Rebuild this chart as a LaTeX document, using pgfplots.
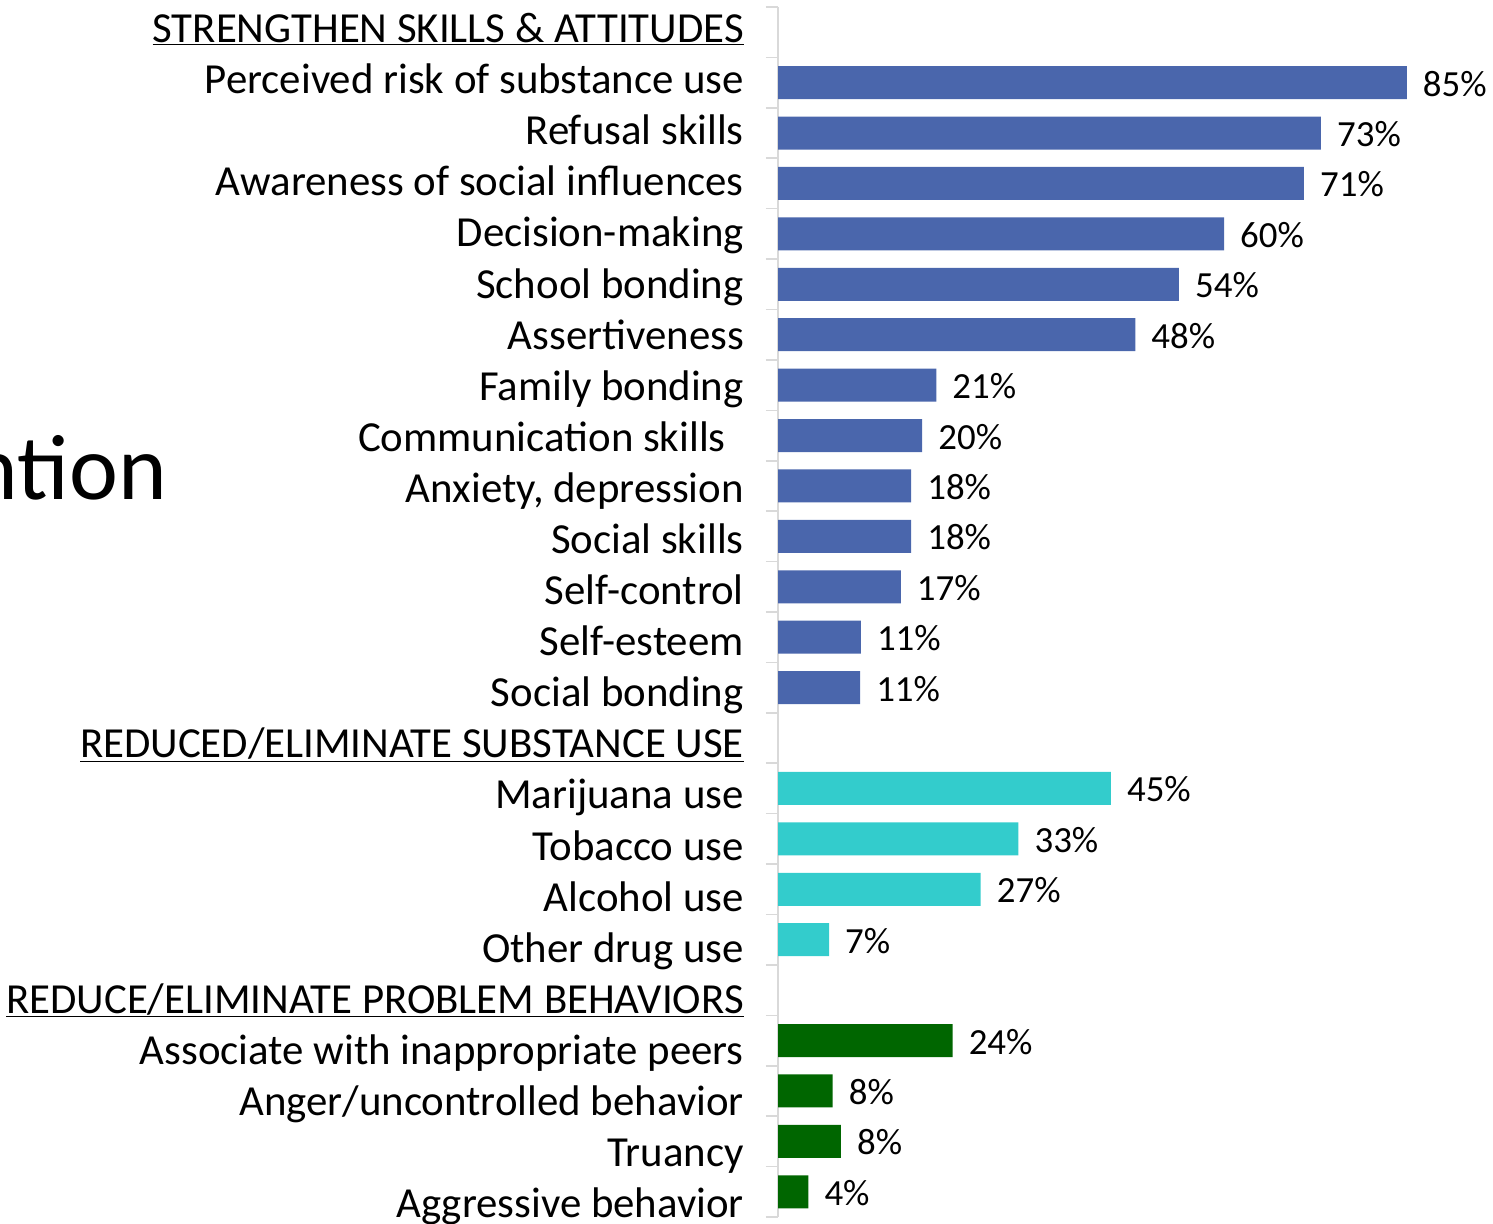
\documentclass[border=0pt]{standalone}
\usepackage{pgfplots}
\pgfplotsset{compat=1.18}
\usepackage{pgfplotstable}
\usepackage{fontspec}
\setmainfont{Carlito}
\definecolor{cblue}{HTML}{4A66AC}
\definecolor{cteal}{HTML}{33CCCC}
\definecolor{cgreen}{HTML}{006600}
\definecolor{cgrid}{HTML}{D9D9D9}

\pgfplotstableread{
y x lab
1 85.0 85
2 73.4 73
3 71.1 71
4 60.3 60
5 54.2 54
6 48.3 48
7 21.4 21
8 19.5 20
9 18.0 18
10 18.0 18
11 16.6 17
12 11.2 11
13 11.1 11
}\blueData
\pgfplotstableread{
y x lab
15 45.0 45
16 32.5 33
17 27.4 27
18 6.9 7
}\tealData
\pgfplotstableread{
y x lab
20 23.6 24
21 7.4 8
22 8.5 8
23 4.1 4
}\greenData

\newcommand{\hd}[1]{\underline{#1}}

\begin{document}
\begin{tikzpicture}
\useasboundingbox (0,0) rectangle (1493bp,1224bp);
\node[anchor=base east, inner sep=0pt, font=\fontsize{93}{93}\selectfont] at (167bp,724bp) {ntion};
\begin{axis}[
  at={(778bp,7bp)}, anchor=south west,
  scale only axis, width=715bp, height=1210bp,
  xmin=0, xmax=96.66, ymin=-0.5, ymax=23.5, y dir=reverse,
  hide x axis,
  axis y line*=left,
  y axis line style={draw=cgrid, line width=1.6bp},
  clip=false,
  tick align=outside,
  ytick={-0.063,0.950,1.964,2.977,3.991,5.004,6.018,7.031,8.045,9.058,10.072,11.085,12.099,13.112,14.126,15.139,16.153,17.166,18.180,19.193,20.207,21.220,22.234,23.247},
  major tick length=0pt,
  minor ytick={-0.5,0.5,...,23.5},
  minor tick length=12bp,
  every minor tick/.style={draw=cgrid, line width=1.6bp},
  yticklabels={
    \hd{STRENGTHEN SKILLS \& ATTITUDES},
    Perceived risk of substance use,
    Refusal skills,
    Awareness of social influences,
    Decision-making,
    School bonding,
    Assertiveness,
    Family bonding,
    Communication skills\hspace*{18bp},
    {Anxiety, depression},
    Social skills,
    Self-control,
    Self-esteem,
    Social bonding,
    \hd{REDUCED/ELIMINATE SUBSTANCE USE},
    Marijuana use,
    Tobacco use,
    Alcohol use,
    Other drug use,
    \hd{REDUCE/ELIMINATE PROBLEM BEHAVIORS},
    Associate with inappropriate peers,
    Anger/uncontrolled behavior,
    Truancy,
    Aggressive behavior},
  yticklabel style={anchor=east, inner sep=0pt, xshift=-34bp,
    font=\fontsize{43}{43}\selectfont, text height=27bp, text depth=0pt},
  xbar, bar width=33bp,
  point meta=explicit,
  nodes near coords={\pgfmathprintnumber[fixed,precision=0,assume math mode=true]{\pgfplotspointmeta}\%},
  nodes near coords align={horizontal},
  every node near coord/.style={anchor=west, inner sep=0pt, xshift=16bp, yshift=-2bp,
    font=\fontsize{37}{37}\selectfont, text height=23bp, text depth=0pt, color=black},
]
\addplot[fill=cblue, draw=none, bar shift=0pt] table[x=x, y=y, meta=lab] {\blueData};
\addplot[fill=cteal, draw=none, bar shift=0pt] table[x=x, y=y, meta=lab] {\tealData};
\addplot[fill=cgreen, draw=none, bar shift=0pt] table[x=x, y=y, meta=lab] {\greenData};
\end{axis}
\end{tikzpicture}
\end{document}
